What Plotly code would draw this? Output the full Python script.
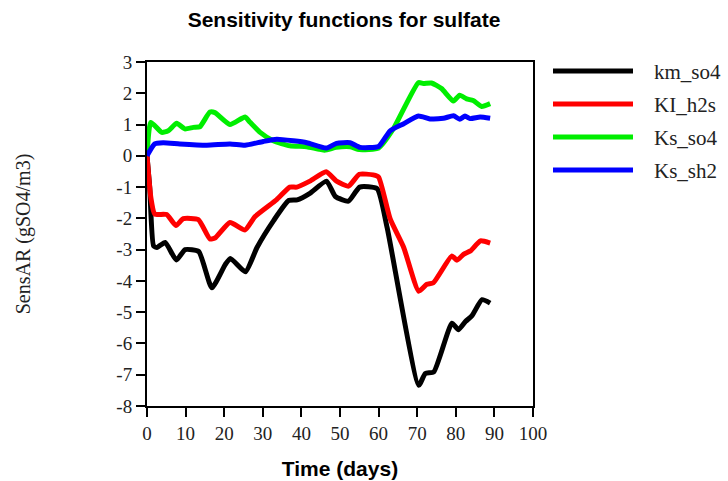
import plotly.graph_objects as go

# ---- data ----
km_t = [0, 0.7, 1.7, 2.6, 4.7, 7.6, 9.9, 13.4, 16.8, 20.3, 21.6, 25.5, 28.5, 32.8, 36.7, 38.9,
        42.3, 46.5, 48.8, 52.2, 55.1, 59.6, 62.2, 70.4, 72.1, 74.3, 79.0, 80.7, 82.5, 84.2, 86.8, 88.9]
km_v = [0, -1.0, -2.88, -2.93, -2.77, -3.33, -3.0, -3.06, -4.22, -3.47, -3.28, -3.71, -2.93, -2.07,
        -1.43, -1.41, -1.19, -0.81, -1.3, -1.45, -1.0, -1.05, -2.29, -7.34, -6.96, -6.91, -5.35,
        -5.56, -5.30, -5.11, -4.6, -4.71]

ki_t = [0, 1.0, 2.0, 5.1, 7.5, 9.4, 13.3, 16.3, 17.6, 21.5, 25.4, 28.0, 33.6, 37.0, 38.8, 42.2,
        46.4, 49.1, 52.2, 55.0, 58.6, 60.0, 63.0, 66.5, 70.4, 72.5, 74.2, 79.0, 80.3, 82.0, 83.8,
        86.4, 88.9]
ki_v = [0, -1.34, -1.86, -1.88, -2.23, -2.01, -2.04, -2.66, -2.63, -2.13, -2.37, -1.94, -1.4,
        -1.0, -1.0, -0.81, -0.51, -0.81, -0.97, -0.59, -0.61, -0.68, -2.02, -2.93, -4.33, -4.11,
        -4.06, -3.2, -3.34, -3.15, -3.04, -2.72, -2.79]

kso4_t = [0, 1.0, 3.8, 5.5, 7.7, 9.8, 12.0, 13.7, 16.3, 17.6, 21.5, 25.4, 26.7, 29.3, 32.7, 37.0,
          41.4, 46.0, 49.0, 52.6, 55.0, 60.0, 63.8, 70.3, 71.6, 73.7, 76.3, 79.4, 81.0, 82.8,
          84.5, 86.7, 88.9]
kso4_v = [0, 1.07, 0.75, 0.8, 1.04, 0.86, 0.91, 0.93, 1.4, 1.38, 1.0, 1.24, 1.07, 0.75, 0.48,
          0.32, 0.29, 0.18, 0.27, 0.29, 0.2, 0.25, 0.86, 2.34, 2.31, 2.33, 2.15, 1.75, 1.94, 1.82,
          1.77, 1.58, 1.67]

ksh2_t = [0, 2.0, 4.2, 8.5, 15.5, 21.5, 25.4, 30.1, 33.6, 37.9, 41.4, 46.5, 49.1, 52.6, 55.2,
          60.0, 63.0, 66.4, 70.3, 73.3, 76.8, 79.4, 81.0, 82.4, 83.7, 86.3, 88.9]
ksh2_v = [0, 0.38, 0.42, 0.38, 0.34, 0.38, 0.34, 0.46, 0.53, 0.48, 0.42, 0.25, 0.4, 0.42, 0.27,
          0.3, 0.8, 1.02, 1.27, 1.18, 1.2, 1.28, 1.17, 1.27, 1.19, 1.24, 1.2]

series_names = ["km_so4", "KI_h2s", "Ks_so4", "Ks_sh2"]
series_colors = ["#000000", "#ff0000", "#00ee00", "#0000ff"]
series_t = [km_t, ki_t, kso4_t, ksh2_t]
series_v = [km_v, ki_v, kso4_v, ksh2_v]

x_ticks = list(range(0, 101, 10))
y_ticks = list(range(-8, 4))

# ---- layout geometry (pixels) ----
W, H = 728, 481
L, R, T, B = 147, 533, 62, 406


def px_x(x):
    return (x - L) / (R - L)


def px_y(y):
    return (B - y) / (B - T)


fig = go.Figure()
for name, col, t, v in zip(series_names, series_colors, series_t, series_v):
    fig.add_trace(go.Scatter(x=t, y=v, mode="lines", name=name,
                             line=dict(color=col, width=5, shape="spline", smoothing=0.5),
                             showlegend=False))

serif = "Liberation Serif, Times New Roman, serif"
sans = "Liberation Sans, Arial, sans-serif"

shapes = []
annotations = []
leg_y = [71, 104, 137, 170]
for name, col, yy in zip(series_names, series_colors, leg_y):
    shapes.append(dict(type="line", xref="paper", yref="paper",
                       x0=px_x(553), x1=px_x(633), y0=px_y(yy), y1=px_y(yy),
                       line=dict(color=col, width=5)))
    annotations.append(dict(xref="paper", yref="paper", x=px_x(652), y=px_y(yy + 1),
                            text=name, showarrow=False, xanchor="left", yanchor="middle",
                            font=dict(family=serif, size=21, color="#222")))

fig.update_layout(
    width=W, height=H,
    margin=dict(l=L, r=W - R, t=T, b=H - B, pad=0, autoexpand=False),
    paper_bgcolor="white", plot_bgcolor="white",
    title=dict(text="<b>Sensitivity functions for sulfate</b>", x=344 / W, xanchor="center",
               y=1 - 20 / H, yanchor="middle", yref="container",
               font=dict(family=sans, size=21, color="black")),
    shapes=shapes, annotations=annotations,
    xaxis=dict(range=[0, 100], tickvals=x_ticks, ticktext=[str(v) for v in x_ticks],
               showgrid=False, zeroline=False, showline=True, linecolor="black", linewidth=2,
               mirror=True, ticks="outside", ticklen=9, tickwidth=2, tickcolor="black",
               automargin=False,
               tickfont=dict(family=serif, size=19, color="#222"),
               title=dict(text="<b>Time (days)</b>", font=dict(family=sans, size=21, color="black"),
                          standoff=19)),
    yaxis=dict(range=[-8, 3], tickvals=y_ticks, ticktext=[str(v) for v in y_ticks],
               showgrid=False, zeroline=False, showline=True, linecolor="black", linewidth=2,
               mirror=True, ticks="outside", ticklen=9, tickwidth=2, tickcolor="black",
               automargin=False,
               tickfont=dict(family=serif, size=19, color="#222"),
               title=dict(text="SensAR (gSO4/m3)", font=dict(family=serif, size=20, color="#222"),
                          standoff=80)),
)

fig.write_html("out.html")
